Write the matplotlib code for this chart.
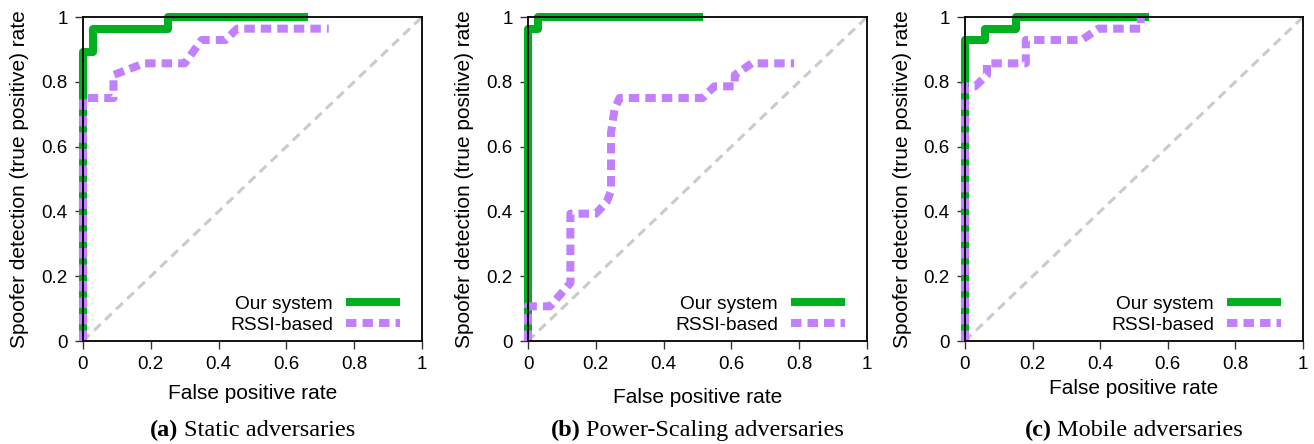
import matplotlib
matplotlib.use("Agg")
import matplotlib.pyplot as plt

# ROC points
a_ours_x = [0, 0, 0.03, 0.03, 0.25, 0.25, 0.665]
a_ours_y = [0, 0.893, 0.893, 0.964, 0.964, 1.0, 1.0]
a_rssi_x = [0, 0, 0.09, 0.09, 0.18, 0.30, 0.35, 0.42, 0.455, 0.725]
a_rssi_y = [0, 0.75, 0.75, 0.821, 0.857, 0.857, 0.929, 0.929, 0.964, 0.964]

b_ours_x = [0, 0, 0.03, 0.03, 0.515]
b_ours_y = [0, 0.964, 0.964, 1.0, 1.0]
b_rssi_x = [0, 0, 0.065, 0.125, 0.125, 0.2, 0.232, 0.245, 0.245, 0.255, 0.27,
            0.515, 0.55, 0.61, 0.61, 0.66, 0.785]
b_rssi_y = [0, 0.107, 0.107, 0.179, 0.393, 0.393, 0.429, 0.464, 0.643, 0.714, 0.75,
            0.75, 0.786, 0.786, 0.821, 0.857, 0.857]

c_ours_x = [0, 0, 0.06, 0.06, 0.15, 0.15, 0.545]
c_ours_y = [0, 0.929, 0.929, 0.964, 0.964, 1.0, 1.0]
c_rssi_x = [0, 0, 0.03, 0.065, 0.065, 0.18, 0.18, 0.345, 0.395, 0.52, 0.52]
c_rssi_y = [0, 0.786, 0.786, 0.821, 0.857, 0.857, 0.929, 0.929, 0.964, 0.964, 1.0]

ticks = [0, 0.2, 0.4, 0.6, 0.8, 1]
tick_labels = ["0", "0.2", "0.4", "0.6", "0.8", "1"]
series_names = ["Our system", "RSSI-based"]
captions = [("(a)", "Static adversaries"),
            ("(b)", "Power-Scaling adversaries"),
            ("(c)", "Mobile adversaries")]

GREEN = "#00b020"
PURPLE = "#c080ff"
SANS = "Liberation Sans"
SERIF = "Liberation Serif"

W, H = 1314, 444
fig = plt.figure(figsize=(W / 100, H / 100), dpi=100)

# axes boxes in pixels: left, right, xlabel centre y
boxes = [(83, 422, 393), (528, 867, 397), (965, 1303, 388)]
TOP, BOTTOM = 17, 341

panels = [
    (a_ours_x, a_ours_y, a_rssi_x, a_rssi_y),
    (b_ours_x, b_ours_y, b_rssi_x, b_rssi_y),
    (c_ours_x, c_ours_y, c_rssi_x, c_rssi_y),
]

axes = []
for (left, right, xl_y), (ox, oy, rx, ry) in zip(boxes, panels):
    ax = fig.add_axes([left / W, (H - BOTTOM) / H, (right - left) / W, (BOTTOM - TOP) / H])
    ph = BOTTOM - TOP
    pw = right - left

    # diagonal reference
    ax.plot(ticks, ticks, color="#cbcbcb", lw=2.2, dashes=(3, 2), zorder=1)
    ax.plot(ox, oy, color=GREEN, lw=5.8, solid_capstyle="butt",
            label=series_names[0], clip_on=False, zorder=2)
    ax.plot(rx, ry, color=PURPLE, lw=5.8, dashes=(1.3, 0.75), dash_capstyle="butt",
            label=series_names[1], clip_on=False, zorder=2.2)

    ax.set_xlim(0, 1)
    ax.set_ylim(0, 1)
    ax.set_xticks(ticks)
    ax.set_xticklabels(tick_labels, fontsize=13.5, family=SANS)
    ax.set_yticks(ticks)
    ax.set_yticklabels(tick_labels, fontsize=13.5, family=SANS)
    ax.tick_params(direction="out", length=5.5, width=1.0, pad=5.5, color="#333333")
    for s in ax.spines.values():
        s.set_linewidth(1.3)
        s.set_zorder(3)

    ax.set_xlabel("False positive rate", fontsize=15, family=SANS)
    ax.set_ylabel("Spoofer detection (true positive) rate", fontsize=15, family=SANS)
    ax.xaxis.set_label_coords(0.5, (BOTTOM - xl_y) / ph)
    ax.xaxis.label.set_va("center")
    ax.yaxis.set_label_coords(-63 / pw, 0.5)
    ax.yaxis.label.set_va("center")

    ax.legend(loc="lower right", bbox_to_anchor=(0.935, 0.022), frameon=False,
              markerfirst=False, prop={"family": SANS, "size": 13.8},
              handlelength=2.8, handletextpad=0.7, labelspacing=0.2,
              borderpad=0, borderaxespad=0)
    axes.append(ax)

# captions: bold tag + regular title, centred under each axes
r = fig.canvas.get_renderer()
for ax, (tag, title) in zip(axes, captions):
    pos = ax.get_position()
    cx = (pos.x0 + pos.x1) / 2 * W
    t1 = fig.text(0, 14 / H, tag, fontsize=17.5, family=SERIF, weight="bold", va="center")
    t2 = fig.text(0, 14 / H, title, fontsize=17.5, family=SERIF, va="center")
    w1 = t1.get_window_extent(r).width
    w2 = t2.get_window_extent(r).width
    gap = 5
    x0 = cx - (w1 + gap + w2) / 2
    t1.set_x(x0 / W)
    t2.set_x((x0 + w1 + gap) / W)

fig.savefig("out.png", dpi=100)
